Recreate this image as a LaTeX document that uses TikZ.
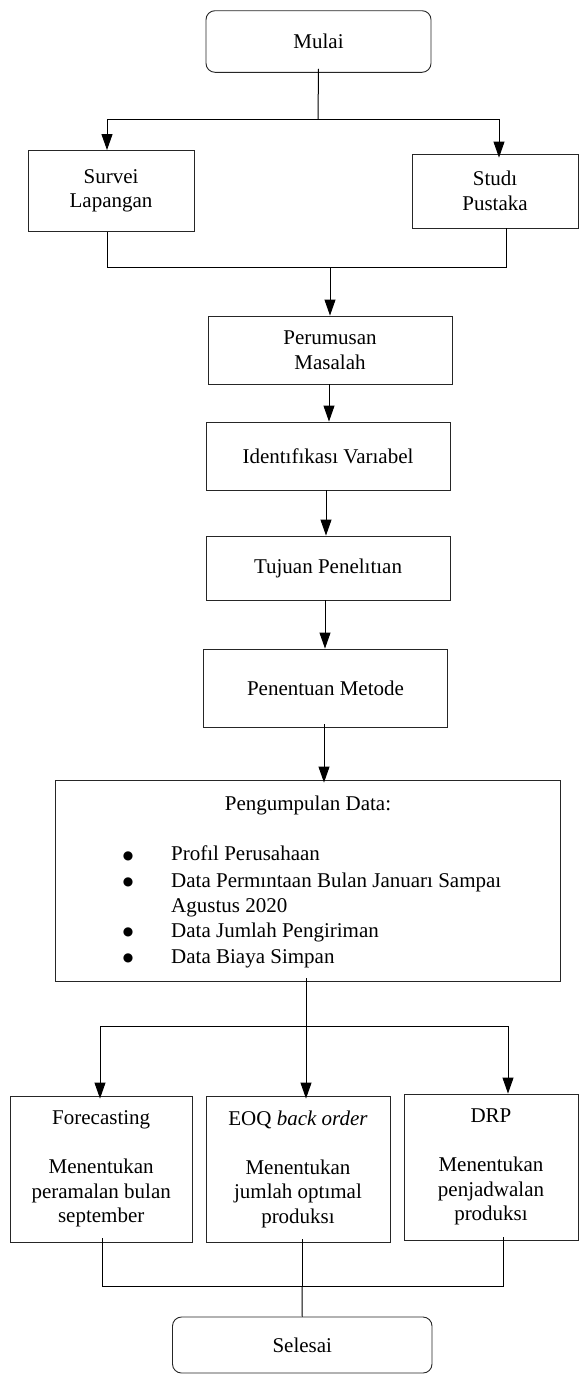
\documentclass[tikz,border=0pt]{standalone}
\usepackage{fontspec}
\setmainfont{Liberation Serif}
\newfontfamily\dejavu{DejaVu Sans}
\usetikzlibrary{arrows.meta}
\begin{document}
\begin{tikzpicture}[x=1pt,y=-1pt,
  every node/.style={font=\fontsize{21}{24.5}\selectfont},
  box/.style={draw=black!85, line width=0.9pt, rectangle, inner sep=0pt, align=center},
  rbox/.style={box, rounded corners=9pt},
  txt/.style={inner sep=0pt, text height=15pt, text depth=5pt},
  bul/.style={inner sep=0pt, font=\fontsize{12}{12}\dejavu, text height=7.5pt, text depth=0pt},
  line/.style={draw=black, line width=1pt},
  arr/.style={line, -{Triangle[width=11pt,length=16pt]}}]
\useasboundingbox (0,0) rectangle (579,1374);

% nodes
\node[rbox, minimum width=225pt, minimum height=61.6pt] (mulai) at (318.5,41.5) {Mulai};
\node[box, minimum width=166pt, minimum height=81pt] (survei) at (111,191) {Survei\\Lapangan};
\node[box, minimum width=166pt, minimum height=74pt] (studi) at (495,191) {Studı\\Pustaka};
\node[box, minimum width=244pt, minimum height=68pt] (perumusan) at (330,350) {Perumusan\\Masalah};
\node[box, minimum width=244pt, minimum height=68pt] (identif) at (328,456) {Identıfıkası Varıabel};
\node[box, minimum width=244pt, minimum height=64pt] (tujuan) at (328,568) {Tujuan Penelıtıan};
\node[box, minimum width=244pt, minimum height=78pt] (penentuan) at (325.5,688) {Penentuan Metode};
\node[box, minimum width=505pt, minimum height=201pt] (pengumpulan) at (307.5,880.5) {};
\node[txt] (pdtitle) at (308,805) {Pengumpulan Data:};
\node[bul] (b1) at (128,856) {●};
\node[bul] (b2) at (128,882) {●};
\node[bul] (b3) at (128,932) {●};
\node[bul] (b4) at (128,958) {●};
\node[txt, anchor=west] (i1) at (171,855) {Profıl Perusahaan};
\node[txt, anchor=west] (i2) at (171,882) {Data Permıntaan Bulan Januarı Sampaı};
\node[txt, anchor=west] (i2b) at (171,907) {Agustus 2020};
\node[txt, anchor=west] (i3) at (171,932) {Data Jumlah Pengiriman};
\node[txt, anchor=west] (i4) at (171,958) {Data Biaya Simpan};
\node[box, minimum width=182.4pt, minimum height=146pt] (forecast) at (101.2,1169)
  {Forecasting\\[24.5pt]Menentukan\\peramalan bulan\\september};
\node[box, minimum width=184pt, minimum height=146pt] (eoq) at (298,1169)
  {EOQ \textit{back order}\\[24.5pt]Menentukan\\jumlah optımal\\produksı};
\node[box, minimum width=174pt, minimum height=146pt] (drp) at (491,1167)
  {DRP\\[24.5pt]Menentukan\\penjadwalan\\produksı};
\node[rbox, minimum width=259.5pt, minimum height=56pt] (selesai) at (302.25,1345) {Selesai};

% junction coordinates
\coordinate (j1) at (318,119);
\coordinate (j2) at (330,267);
\coordinate (j3) at (306,1026);
\coordinate (j4) at (302,1286);

% connectors
\draw[line] ([yshift=4pt]mulai.south) -- (j1);
\draw[arr] (j1) -| ([xshift=-4pt]survei.north);
\draw[arr] (j1) -| ([xshift=4pt,yshift=-4pt]studi.north);
\draw[line] ([xshift=-4pt]survei.south) |- (j2);
\draw[line] ([xshift=11pt]studi.south) |- (j2);
\draw[arr] (j2) -- (perumusan.north);
\draw[arr] ([xshift=-1pt]perumusan.south) -- ([xshift=-1pt]perumusan.south |- identif.north);
\draw[arr] ([xshift=-2pt]identif.south) -- ([xshift=-2pt]identif.south |- tujuan.north);
\draw[arr] ([xshift=-3pt]tujuan.south) -- ([xshift=-3pt]tujuan.south |- penentuan.north);
\draw[arr] ([xshift=-1.5pt,yshift=3pt]penentuan.south) -- ([xshift=-1.5pt,yshift=-3pt]penentuan.south |- pengumpulan.north);
\draw[line] ([xshift=-1.5pt,yshift=3pt]pengumpulan.south) -- (j3);
\draw[arr] (j3) -| ([xshift=-1.2pt,yshift=-3pt]forecast.north);
\draw[arr] (j3) -- ([yshift=-3pt]j3 |- eoq.north);
\draw[arr] (j3) -| ([xshift=17pt]drp.north);
\draw[line] ([xshift=1pt,yshift=4pt]forecast.south) |- (j4);
\draw[line] ([xshift=12pt,yshift=3pt]drp.south) |- (j4);
\draw[line] ([xshift=4pt,yshift=3pt]eoq.south) -- (j4);
\draw[line] (j4) -- (selesai.north);
\end{tikzpicture}
\end{document}
